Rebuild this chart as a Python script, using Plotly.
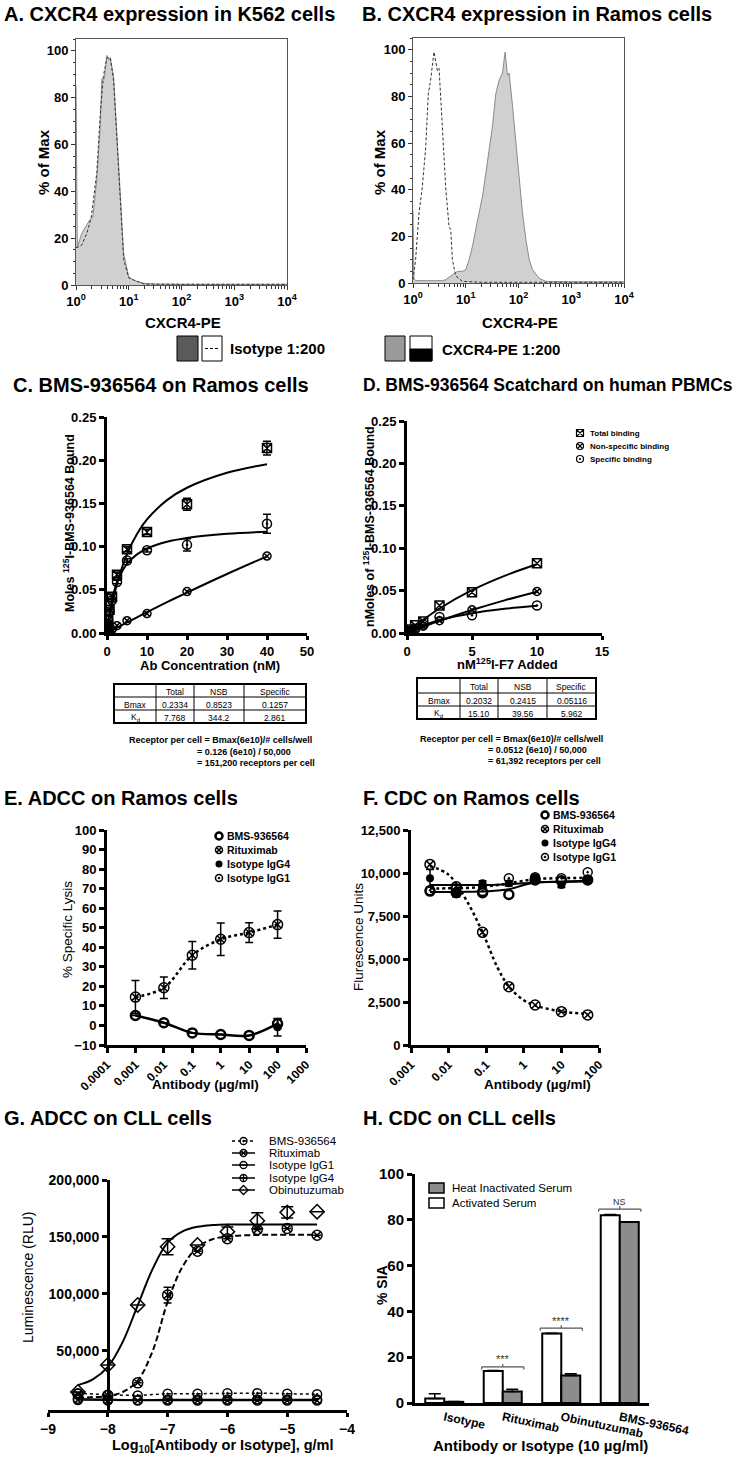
import plotly.graph_objects as go

# ---------------- data ----------------
# A. CXCR4 expression in K562 cells (flow histogram, % of max)
k562_pe_x = [1.0, 1.03, 1.06, 1.28, 1.6, 1.85, 2.08, 2.48, 2.87, 3.09, 3.43, 3.85, 4.15, 4.47,
             5.17, 5.98, 6.92, 8.0, 10, 12.5, 19.4, 30, 100, 1000, 10000]
k562_pe_y = [85, 16, 16, 22, 26, 28, 29, 45, 67, 88, 88, 98, 96, 97,
             89, 65, 36, 13.5, 3.5, 2, 0.7, 0.4, 0.3, 0.3, 0.3]
k562_iso_x = [1.0, 1.06, 1.28, 1.6, 1.95, 2.48, 2.87, 3.3, 3.85, 4.47, 5.17, 5.98, 6.92,
              8.0, 10, 19.4, 100, 10000]
k562_iso_y = [16, 16, 17, 22, 29, 48, 72, 89, 97, 97, 87, 62, 33, 11, 3, 0.4, 0.3, 0.3]

# B. CXCR4 expression in Ramos cells
ramos_pe_x = [1.0, 1.04, 1.12, 2.0, 3.6, 4.17, 5.58, 6.95, 8.65, 10, 11.6, 13.4, 15.5, 17.9,
              20.7, 24, 27.7, 32, 37.1, 43, 49.7, 55.8, 61.8, 66.5, 76.9, 89, 103, 119, 138,
              160, 184, 247, 330, 1000, 10000]
ramos_pe_y = [31, 2, 1, 1, 1, 1.4, 3.6, 5, 5, 5.7, 10, 15.7, 23, 30,
              37, 47, 56, 67, 81, 87, 90, 99, 89, 90, 76, 60, 44, 30, 18.6,
              10, 5.7, 2, 0.7, 0.5, 0.5]
ramos_iso_x = [1.0, 1.04, 1.12, 1.3, 1.5, 1.74, 1.95, 2.16, 2.33, 2.5, 2.69, 2.9, 3.12, 3.35,
               3.6, 3.88, 4.17, 4.83, 5.19, 5.58, 6.46, 8.65, 20, 10000]
ramos_iso_y = [1.4, 5, 10, 30, 41, 58, 81, 87, 94, 99, 95, 91, 92, 79,
               71, 57, 41, 24, 23, 10, 3, 0.7, 0.3, 0.3]

# C. BMS-936564 saturation binding on Ramos cells
c_conc = [0.04, 0.08, 0.16, 0.31, 0.625, 1.25, 2.5, 5, 10, 20, 40]
c_total = [0.002, 0.004, 0.008, 0.015, 0.027, 0.042, 0.0675, 0.097, 0.117, 0.149, 0.214]
c_total_err = [0, 0, 0, 0, 0, 0.003, 0.003, 0.003, 0.003, 0.007, 0.008]
c_nsb = [0.0002, 0.0004, 0.0007, 0.0012, 0.002, 0.004, 0.0085, 0.0143, 0.0225, 0.048, 0.089]
c_spec = [0.0018, 0.0036, 0.0073, 0.014, 0.025, 0.038, 0.059, 0.084, 0.0957, 0.102, 0.1265]
c_spec_err = [0, 0, 0, 0, 0, 0.002, 0.002, 0.002, 0.002, 0.007, 0.011]
c_fit_x = [0, 0.5, 1, 2, 3, 5, 7.5, 10, 15, 20, 30, 40]
c_fit_total = [0, 0.0141, 0.0266, 0.0478, 0.065, 0.0914, 0.1147, 0.1314, 0.1538, 0.1681, 0.1854, 0.1954]
c_fit_nsb = [0, 0.0012, 0.0025, 0.0049, 0.0074, 0.0122, 0.0182, 0.0241, 0.0357, 0.0468, 0.0683, 0.0887]
c_fit_spec = [0, 0.0187, 0.0326, 0.0517, 0.0643, 0.08, 0.091, 0.0977, 0.1056, 0.11, 0.1148, 0.1173]

# D. Scatchard on human PBMCs
d_conc = [0.08, 0.16, 0.31, 0.625, 1.25, 2.5, 5, 10]
d_total = [0.001, 0.002, 0.004, 0.009, 0.0137, 0.0325, 0.048, 0.0823]
d_nsb = [0.0005, 0.001, 0.002, 0.004, 0.008, 0.0145, 0.0274, 0.049]
d_spec = [0.0005, 0.001, 0.002, 0.005, 0.01, 0.0188, 0.0208, 0.0325]
d_fit_x = [0, 0.625, 1.25, 2.5, 5, 7.5, 10]
d_fit_total = [0, 0.0081, 0.0155, 0.0289, 0.0505, 0.0674, 0.081]
d_fit_nsb = [0, 0.0038, 0.0074, 0.0144, 0.0271, 0.0385, 0.0487]
d_fit_spec = [0, 0.0049, 0.0089, 0.0151, 0.0233, 0.0285, 0.0321]

# binding tables
table_head = ["", "Total", "NSB", "Specific"]
c_bmax = ["0.2334", "0.8523", "0.1257"]
c_kd = ["7.768", "344.2", "2.861"]
d_bmax = ["0.2032", "0.2415", "0.05116"]
d_kd = ["15.10", "39.56", "5.962"]
c_receptor = ["Receptor per cell = Bmax(6e10)/# cells/well",
              "= 0.126 (6e10) / 50,000", "= 151,200 receptors per cell"]
d_receptor = ["Receptor per cell = Bmax(6e10)/# cells/well",
              "= 0.0512 (6e10) / 50,000", "= 61,392 receptors per cell"]

# E. ADCC on Ramos cells
e_dose = [0.001, 0.01, 0.1, 1, 10, 100]
e_ritux = [14.5, 19.3, 35.9, 44.1, 47.5, 51.6]
e_ritux_err = [8.5, 5.5, 7, 8.3, 5.1, 7]
e_bms = [5.1, 1.4, -3.8, -4.6, -5.1, 0.9]
e_bms_err = [0, 0, 0, 0, 0, 2.5]
e_iso_dose = [100]
e_igg4 = [-0.9]
e_igg4_err = [4.5]
e_igg1 = [1.2]

# F. CDC on Ramos cells
f_dose = [0.0032, 0.016, 0.08, 0.4, 2, 10, 50]
f_ritux = [10500, 9200, 6550, 3390, 2325, 1940, 1750]
f_bms = [8950, 8850, 8850, 8750, 9600, 9550, 9600]
f_igg4 = [9700, 8800, 9400, 9400, 9750, 9300, 9550]
f_igg4_err = [500, 200, 150, 150, 150, 150, 150]
f_igg1 = [9000, 9100, 8950, 9700, 9750, 9700, 10050]
f_fit_x = [0.0032, 0.01, 0.03, 0.08, 0.2, 0.4, 1, 2, 10, 50]
f_fit_ritux = [10400, 9900, 8400, 6550, 4500, 3400, 2600, 2300, 1950, 1800]
f_fit_bms = [8900, 8900, 8910, 8920, 8980, 9050, 9300, 9450, 9480, 9500]
f_fit_igg4 = [9300, 9300, 9300, 9300, 9320, 9350, 9400, 9450, 9500, 9550]
f_fit_igg1 = [9100, 9110, 9130, 9200, 9300, 9400, 9550, 9650, 9700, 9720]

# G. ADCC on CLL cells
g_logx = [-8.5, -8, -7.5, -7, -6.5, -6, -5.5, -5, -4.5]
g_obin = [14000, 37700, 90400, 141500, 143000, 154700, 164300, 171600, 172200]
g_obin_err = [0, 0, 0, 7000, 0, 4000, 7000, 5000, 0]
g_ritux = [12000, 11000, 22000, 99000, 137500, 148500, 156500, 157500, 151500]
g_ritux_err = [0, 0, 0, 7000, 0, 0, 0, 0, 0]
g_bms = [13000, 11500, 11000, 12500, 12500, 13000, 13000, 12500, 12000]
g_igg1 = [8000, 7500, 7000, 7500, 7500, 7500, 7500, 7500, 7500]
g_igg4 = [7000, 6500, 6500, 6500, 6500, 6500, 6500, 6500, 6500]
g_fit_x = [-8.5, -8.25, -8, -7.75, -7.5, -7.25, -7, -6.75, -6.5, -6.25, -6, -5.5, -5, -4.5]
g_fit_obin = [20000, 25000, 36000, 58000, 90000, 122000, 145000, 155000, 159000, 160500,
              161000, 161000, 161000, 161000]
g_fit_ritux = [9000, 9500, 10500, 14000, 24000, 50000, 93000, 124000, 141000, 148000,
               150500, 151800, 152000, 152000]

# H. CDC on CLL cells
h_cats = ["Isotype", "Rituximab", "Obinutuzumab", "BMS-936564"]
h_active = [2, 14, 30.3, 82]
h_active_err = [2, 0.2, 0.2, 0.3]
h_heat = [0.5, 5, 12, 79]
h_heat_err = [0.2, 1, 0.8, 0]
h_sig = ["", "***", "****", "NS"]
h_sig_at = [None, 15.8, 32.7, 84.7]

# ---------------- helpers ----------------
W, H = 744, 1457
FONT = "Liberation Sans, Arial, sans-serif"


def xdom(l, r):
    return [l / W, r / W]


def ydom(t, b):
    return [1 - b / H, 1 - t / H]


def tfont(size, bold=True):
    return dict(family=FONT, size=size, color="black", weight="bold" if bold else "normal")


def thick(**kw):
    d = dict(showline=True, linewidth=3, linecolor="black", ticks="outside", ticklen=5,
             tickwidth=3, tickcolor="black", showgrid=False, zeroline=False,
             tickfont=tfont(13), automargin=False)
    d.update(kw)
    return d


def box(**kw):
    d = dict(showline=True, mirror=True, linewidth=1, linecolor="#555", ticks="outside",
             ticklen=4, tickwidth=1, tickcolor="#333", showgrid=False, zeroline=False,
             tickfont=tfont(13), automargin=False)
    d.update(kw)
    return d


fig = go.Figure()
K = "black"


def sc(x, y, ax, **kw):
    fig.add_trace(go.Scatter(x=x, y=y, xaxis="x" + ax, yaxis="y" + ax, showlegend=False,
                             hoverinfo="skip", **kw))


def err(arr):
    return dict(type="data", array=arr, color=K, thickness=1.5, width=4)


# A / B histograms
for ax, px, py, ix, iy in [("", k562_pe_x, k562_pe_y, k562_iso_x, k562_iso_y),
                           ("2", ramos_pe_x, ramos_pe_y, ramos_iso_x, ramos_iso_y)]:
    sc(px, py, ax, mode="lines", fill="tozeroy", fillcolor="#d0d0d0",
       line=dict(color="#8a8a8a", width=1))
    sc(ix, iy, ax, mode="lines", line=dict(color="#333", width=1, dash="3px,2px"))

# C
for fy in (c_fit_total, c_fit_spec, c_fit_nsb):
    sc(c_fit_x, fy, "3", mode="lines", line=dict(color=K, width=2, shape="spline"))
sc(c_conc, c_nsb, "3", mode="markers",
   marker=dict(symbol="circle-x-open", size=8, color=K, line=dict(width=1.5)))
sc(c_conc, c_spec, "3", mode="markers", error_y=err(c_spec_err),
   marker=dict(symbol="circle-open-dot", size=9, color=K, line=dict(width=1.5)))
sc(c_conc, c_total, "3", mode="markers", error_y=err(c_total_err),
   marker=dict(symbol="square-x-open", size=9, color=K, line=dict(width=1.5)))

# D
for fy in (d_fit_total, d_fit_nsb, d_fit_spec):
    sc(d_fit_x, fy, "4", mode="lines", line=dict(color=K, width=2, shape="spline"))
sc(d_conc, d_nsb, "4", mode="markers",
   marker=dict(symbol="circle-x-open", size=8, color=K, line=dict(width=1.5)))
sc(d_conc, d_spec, "4", mode="markers",
   marker=dict(symbol="circle-open-dot", size=9, color=K, line=dict(width=1.5)))
sc(d_conc, d_total, "4", mode="markers",
   marker=dict(symbol="square-x-open", size=9, color=K, line=dict(width=1.5)))

# E
sc(e_dose, e_ritux, "5", mode="lines", line=dict(color=K, width=2.5, dash="dot", shape="spline"))
sc(e_dose, e_bms, "5", mode="lines", line=dict(color=K, width=2.5, shape="spline"))
sc(e_dose, e_ritux, "5", mode="markers", error_y=err(e_ritux_err),
   marker=dict(symbol="circle-x-open", size=10, color=K, line=dict(width=1.5)))
sc(e_dose, e_bms, "5", mode="markers", error_y=err(e_bms_err),
   marker=dict(symbol="circle-open", size=9, color=K, line=dict(width=2.5)))
sc(e_iso_dose, e_igg4, "5", mode="markers", error_y=err(e_igg4_err),
   marker=dict(symbol="circle", size=8, color=K))
sc(e_iso_dose, e_igg1, "5", mode="markers",
   marker=dict(symbol="circle-open-dot", size=9, color=K, line=dict(width=1.5)))

# F
sc(f_fit_x, f_fit_ritux, "6", mode="lines", line=dict(color=K, width=2.5, dash="dot", shape="spline"))
sc(f_fit_x, f_fit_igg1, "6", mode="lines", line=dict(color=K, width=2.5, dash="dot", shape="spline"))
sc(f_fit_x, f_fit_bms, "6", mode="lines", line=dict(color=K, width=2, shape="spline"))
sc(f_fit_x, f_fit_igg4, "6", mode="lines", line=dict(color=K, width=2, shape="spline"))
sc(f_dose, f_ritux, "6", mode="markers",
   marker=dict(symbol="circle-x-open", size=10, color=K, line=dict(width=1.5)))
sc(f_dose, f_igg4, "6", mode="markers", error_y=err(f_igg4_err),
   marker=dict(symbol="circle", size=8, color=K))
sc(f_dose, f_bms, "6", mode="markers",
   marker=dict(symbol="circle-open", size=9, color=K, line=dict(width=2.5)))
sc(f_dose, f_igg1, "6", mode="markers",
   marker=dict(symbol="circle-open-dot", size=9, color=K, line=dict(width=1.5)))

# G
sc(g_fit_x, g_fit_obin, "7", mode="lines", line=dict(color=K, width=2, shape="spline"))
sc(g_fit_x, g_fit_ritux, "7", mode="lines", line=dict(color=K, width=2, dash="6px,3px", shape="spline"))
sc(g_logx, g_bms, "7", mode="lines+markers", line=dict(color=K, width=1.5, dash="dot"),
   marker=dict(symbol="circle-open-dot", size=9, color=K, line=dict(width=1.5)))
sc(g_logx, g_igg1, "7", mode="lines+markers", line=dict(color=K, width=1.5),
   marker=dict(symbol="circle-open", size=9, color=K, line=dict(width=1.5)))
sc(g_logx, g_igg4, "7", mode="lines+markers", line=dict(color=K, width=1.5),
   marker=dict(symbol="circle-x-open", size=9, color=K, line=dict(width=1.5)))
sc(g_logx, g_ritux, "7", mode="markers", error_y=err(g_ritux_err),
   marker=dict(symbol="circle-x-open", size=10, color=K, line=dict(width=1.5)))
sc(g_logx, g_obin, "7", mode="markers", error_y=dict(err(g_obin_err), width=6),
   marker=dict(symbol="diamond-open", size=11, color=K, line=dict(width=1.5)))

# H
bar_line = dict(color=K, width=2)
fig.add_trace(go.Bar(x=h_cats, y=h_active, xaxis="x8", yaxis="y8", name="Activated Serum",
                     marker=dict(color="white", line=bar_line), showlegend=False,
                     error_y=dict(type="data", array=h_active_err, arrayminus=[0] * 4,
                                  symmetric=False, color=K, thickness=1.5, width=6)))
fig.add_trace(go.Bar(x=h_cats, y=h_heat, xaxis="x8", yaxis="y8", name="Heat Inactivated Serum",
                     marker=dict(color="#8c8c8c", line=bar_line), showlegend=False,
                     error_y=dict(type="data", array=h_heat_err, arrayminus=[0] * 4,
                                  symmetric=False, color=K, thickness=1.5, width=6)))

# ---------------- overlay (pixel space) for legends, tables, notes ----------------
annotations = []
shapes = []


def ann(text, x, y, size, bold=True, xanchor="center", angle=0, color="black"):
    if not text:
        return
    annotations.append(dict(text=text, x=x, y=y, xref="x9", yref="y9", showarrow=False,
                            xanchor=xanchor, yanchor="middle", textangle=angle,
                            font=dict(family=FONT, size=size, color=color,
                                      weight="bold" if bold else "normal")))


def rect(x0, y0, x1, y1, fill="white", lw=1, color="black", dash=None):
    shapes.append(dict(type="rect", xref="x9", yref="y9", x0=x0, y0=y0, x1=x1, y1=y1,
                       fillcolor=fill, line=dict(color=color, width=lw, dash=dash)))


def hline(x0, x1, y, lw=1, dash=None, ref="9", color="black"):
    shapes.append(dict(type="line", xref="x" + ref, yref="y" + ref, x0=x0, x1=x1, y0=y, y1=y,
                       line=dict(color=color, width=lw, dash=dash)))


def vline(x, y0, y1, lw=1, ref="9", color="black"):
    shapes.append(dict(type="line", xref="x" + ref, yref="y" + ref, x0=x, x1=x, y0=y0, y1=y1,
                       line=dict(color=color, width=lw)))


def glyph(x, y, symbol, size=8, lw=1.5):
    sc([x], [y], "9", mode="markers",
       marker=dict(symbol=symbol, size=size, color=K, line=dict(width=lw)))


# panel titles
for txt, x, y, s in [("A. CXCR4 expression in K562 cells", 2, 14, 20),
                     ("B. CXCR4 expression in Ramos cells", 360, 14, 20),
                     ("C. BMS-936564 on Ramos cells", 11, 385, 20),
                     ("D. BMS-936564 Scatchard on human PBMCs", 361, 385, 17.5),
                     ("E. ADCC on Ramos cells", 2, 798, 20),
                     ("F. CDC on Ramos cells", 361, 798, 20),
                     ("G. ADCC on CLL cells", 2, 1118, 20),
                     ("H. CDC on CLL cells", 361, 1118, 20)]:
    ann(txt, x, y, s, xanchor="left")

# axis titles
ann("% of Max", 43, 162, 15, angle=-90)
ann("CXCR4-PE", 183, 322, 15)
ann("% of Max", 379, 162, 15, angle=-90)
ann("CXCR4-PE", 520, 322, 15)
ann("Moles <sup>125</sup>I-BMS-936564 Bound", 69, 523, 12.5, angle=-90)
ann("Ab Concentration (nM)", 210, 665, 13)
ann("nMoles of <sup>125</sup>I-BMS-936564 Bound", 369, 527, 12.5, angle=-90)
ann("nM<sup>125</sup>I-F7 Added", 507, 664, 13)
ann("% Specific Lysis", 67, 930, 13.5, bold=False, angle=-90)
ann("Antibody (µg/ml)", 205, 1084, 13.5)
ann("Flurescence Units", 358, 937, 13.5, bold=False, angle=-90)
ann("Antibody (µg/ml)", 537, 1084, 13.5)
ann("Luminescence (RLU)", 28, 1277, 14, bold=False, angle=-90)
ann("Log<sub>10</sub>[Antibody or Isotype], g/ml", 223, 1446, 14.5)
ann("% SIA", 382, 1285, 14, angle=-90)
ann("Antibody or Isotype (10 µg/ml)", 540, 1445, 15)

# flow legend row
rect(177, 336, 198, 361, fill="#5a5a5a")
rect(202, 336, 222, 361)
hline(205, 220, 348.5, lw=1.2, dash="3px,2px")
ann("Isotype 1:200", 228, 348.5, 15, xanchor="left")
rect(385, 336, 405, 361, fill="#9a9a9a")
rect(410, 336, 432, 361)
rect(410, 349, 432, 361, fill="black")
ann("CXCR4-PE 1:200", 440, 349, 15, xanchor="left")


def table(cols, rows, body):
    rect(cols[0], rows[0], cols[-1], rows[-1], fill="rgba(0,0,0,0)", lw=2)
    for xc in cols[1:-1]:
        vline(xc, rows[0], rows[-1])
    for yr in rows[1:-1]:
        hline(cols[0], cols[-1], yr)
    for i, row in enumerate(body):
        for j, txt in enumerate(row):
            ann(txt, (cols[j] + cols[j + 1]) / 2, (rows[i] + rows[i + 1]) / 2 + 1, 8.5, bold=False)


table([114, 156, 194, 244, 306], [684, 697, 710, 723],
      [table_head, ["Bmax"] + c_bmax, ["K<sub>d</sub>"] + c_kd])
table([417, 460, 498, 547, 596], [678, 693, 706, 719],
      [table_head, ["Bmax"] + d_bmax, ["K<sub>d</sub>"] + d_kd])
ann(c_receptor[0], 127, 740, 9, xanchor="left")
ann(c_receptor[1], 195, 752, 9, xanchor="left")
ann(c_receptor[2], 195, 763, 9, xanchor="left")
ann(d_receptor[0], 418, 739, 9, xanchor="left")
ann(d_receptor[1], 486, 750, 9, xanchor="left")
ann(d_receptor[2], 486, 761, 9, xanchor="left")

# D legend
for (sym, lab), y in zip([("square-x-open", "Total binding"),
                          ("circle-x-open", "Non-specific binding"),
                          ("circle-open-dot", "Specific binding")], [433, 446, 459]):
    glyph(580, y, sym, size=7, lw=1.2)
    ann(lab, 588, y, 8, xanchor="left")

# E / F legends
ef_items = [("circle-open", 2.5, "BMS-936564"), ("circle-x-open", 1.5, "Rituximab"),
            ("circle", 0, "Isotype IgG4"), ("circle-open-dot", 1.5, "Isotype IgG1")]
for x0, ys in [(219, [836, 850, 864, 878]), (545, [815, 829, 843, 857])]:
    for (sym, lw, lab), y in zip(ef_items, ys):
        glyph(x0, y, sym, size=7, lw=lw)
        ann(lab, x0 + 6, y, 10.5, xanchor="left")

# G legend
g_items = [("circle-open-dot", "dot", "BMS-936564"), ("circle-x-open", None, "Rituximab"),
           ("circle-open", None, "Isotype IgG1"), ("circle-cross-open", None, "Isotype IgG4"),
           ("diamond-open", None, "Obinutuzumab")]
for (sym, dash, lab), y in zip(g_items, [1141, 1153, 1165, 1178, 1190]):
    hline(232, 255, y, lw=1.5, dash=dash)
    glyph(243.5, y, sym, size=7, lw=1.3)
    ann(lab, 267, y, 11.5, bold=False, xanchor="left")
hline(239, 248, 1165, lw=1.3)

# H legend
rect(429, 1183, 444, 1193, fill="#8c8c8c", lw=1.5)
rect(429, 1198, 444, 1208, fill="white", lw=1.5)
ann("Heat Inactivated Serum", 450, 1188, 11.5, bold=False, xanchor="left")
ann("Activated Serum", 450, 1203, 11.5, bold=False, xanchor="left")

# H significance brackets
for i, (lab, yb) in enumerate(zip(h_sig, h_sig_at)):
    if yb is None:
        continue
    hline(i - 0.36, i + 0.36, yb, lw=1.2, ref="8", color="#555")
    vline(i - 0.36, yb - 1.2, yb, lw=1.2, ref="8", color="#555")
    vline(i + 0.36, yb - 1.2, yb, lw=1.2, ref="8", color="#555")
    vline(i, yb, yb + 1.2, lw=1.2, ref="8", color="#555")
    annotations.append(dict(text=lab, x=i, y=yb + 3.2, xref="x8", yref="y8", showarrow=False,
                            font=dict(family=FONT, size=11 if lab != "NS" else 9,
                                      color="#333")))

# ---------------- layout ----------------
decades = [1, 10, 100, 1000, 10000]
dec_text = ["10<sup>0</sup>", "10<sup>1</sup>", "10<sup>2</sup>", "10<sup>3</sup>", "10<sup>4</sup>"]
log_minor = dict(ticks="outside", ticklen=3, tickwidth=1, tickcolor="#333", dtick="D1")

layout = dict(
    width=W, height=H, autosize=False,
    margin=dict(l=0, r=0, t=0, b=0, pad=0, autoexpand=False),
    paper_bgcolor="white", plot_bgcolor="rgba(0,0,0,0)",
    font=dict(family=FONT, color="black"), showlegend=False,
    barmode="group", bargap=0.35, bargroupgap=0,
    xaxis=box(domain=xdom(76, 287), anchor="y", type="log", range=[0, 4],
              tickvals=decades, ticktext=dec_text, minor=log_minor),
    yaxis=box(domain=ydom(39, 285), anchor="x", range=[0, 105], dtick=20,
              minor=dict(ticks="outside", ticklen=2, dtick=5, tickcolor="#333")),
    xaxis2=box(domain=xdom(413, 624), anchor="y2", type="log", range=[0, 4],
               tickvals=decades, ticktext=dec_text, minor=log_minor),
    yaxis2=box(domain=ydom(38, 283), anchor="x2", range=[0, 105], dtick=20,
               minor=dict(ticks="outside", ticklen=2, dtick=5, tickcolor="#333")),
    xaxis3=thick(domain=xdom(107, 307), anchor="y3", range=[0, 50], dtick=10, ticklen=4),
    yaxis3=thick(domain=ydom(417, 633), anchor="x3", range=[0, 0.25], dtick=0.05,
                 tickformat=".2f"),
    xaxis4=thick(domain=xdom(407, 602), anchor="y4", range=[0, 15], dtick=5, ticklen=4),
    yaxis4=thick(domain=ydom(421, 633), anchor="x4", range=[0, 0.25], dtick=0.05,
                 tickformat=".2f"),
    xaxis5=thick(domain=xdom(107, 306), anchor="y5", type="log", range=[-4, 3],
                 tickvals=[0.0001, 0.001, 0.01, 0.1, 1, 10, 100, 1000],
                 ticktext=["0.0001", "0.001", "0.01", "0.1", "1", "10", "100", "1000"],
                 tickangle=-45, tickfont=tfont(12)),
    yaxis5=thick(domain=ydom(830, 1045), anchor="x5", range=[-10, 100], dtick=10),
    xaxis6=thick(domain=xdom(411, 599), anchor="y6", type="log", range=[-3, 2],
                 tickvals=[0.001, 0.01, 0.1, 1, 10, 100],
                 ticktext=["0.001", "0.01", "0.1", "1", "10", "100"],
                 tickangle=-45, tickfont=tfont(12)),
    yaxis6=thick(domain=ydom(830, 1045), anchor="x6", range=[0, 12500], dtick=2500,
                 tickformat=","),
    xaxis7=thick(domain=xdom(48, 347), anchor="y7", range=[-9, -4], dtick=1, ticklen=4,
                 tickfont=tfont(14)),
    yaxis7=thick(domain=ydom(1180, 1410), anchor="free", position=108 / W,
                 range=[-1800, 200000], tickvals=[50000, 100000, 150000, 200000],
                 tickformat=",", tickfont=tfont(14)),
    xaxis8=thick(domain=xdom(415, 649), anchor="y8", range=[-0.5, 3.5], type="category",
                 tickangle=12, ticks="", tickfont=tfont(12)),
    yaxis8=thick(domain=ydom(1174, 1403), anchor="x8", range=[0, 100], dtick=20,
                 tickfont=tfont(15)),
    xaxis9=dict(domain=[0, 1], range=[0, W], visible=False, anchor="y9", fixedrange=True),
    yaxis9=dict(domain=[0, 1], range=[H, 0], visible=False, anchor="x9", fixedrange=True),
    annotations=annotations, shapes=shapes,
)
fig.update_layout(**layout)

# the page's default 8px body margin would shift the fixed-size figure
fig.write_html("out.html", config={"displayModeBar": False},
               post_script="document.body.style.margin='0';")
